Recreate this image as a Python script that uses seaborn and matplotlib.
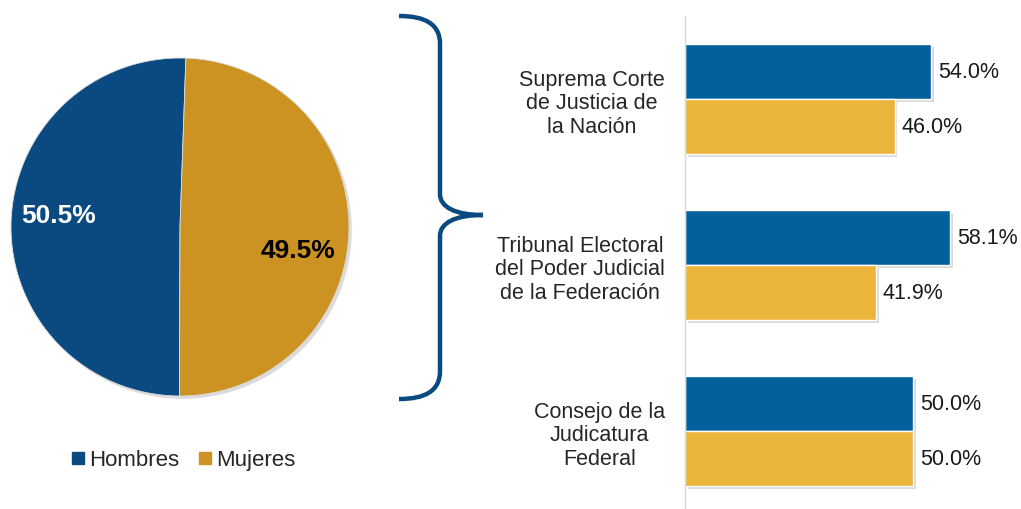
import matplotlib
matplotlib.use("Agg")
import matplotlib.pyplot as plt
import matplotlib.patheffects as pe
from matplotlib.path import Path
from matplotlib.patches import PathPatch
from matplotlib.lines import Line2D
import seaborn as sns
import pandas as pd

# datos
pie_labels = ["Hombres", "Mujeres"]
pie_values = [50.5, 49.5]
pie_colors = ["#0b4a80", "#cc9323"]

organos = ["Suprema Corte\nde Justicia de\nla Nación",
           "Tribunal Electoral\ndel Poder Judicial\nde la Federación",
           "Consejo de la\nJudicatura\nFederal"]
hombres = [54.0, 58.1, 50.0]
mujeres = [46.0, 41.9, 50.0]
bar_colors = ["#02609a", "#ebb43a"]

sns.set_theme(style="white")
plt.rcParams['font.family'] = ['Liberation Sans', 'DejaVu Sans']

W, H = 1021, 510
fig = plt.figure(figsize=(W / 100, H / 100), dpi=100)

# pastel
r = 169
cx, cy = 180, 228
ax_pie = fig.add_axes([(cx - r) / W, (H - cy - r) / H, 2 * r / W, 2 * r / H])
shadow = [pe.SimplePatchShadow(offset=(2, -2), shadow_rgbFace="#999999", alpha=0.35), pe.Normal()]
wedges, texts, autotexts = ax_pie.pie(pie_values, colors=pie_colors, startangle=88,
                                      autopct='%1.1f%%', pctdistance=0.72,
                                      wedgeprops=dict(linewidth=0.6, edgecolor="#dddddd"))
for w in wedges:
    w.set_path_effects(shadow)
for t, c in zip(autotexts, ["white", "black"]):
    t.set_color(c)
    t.set_fontsize(19)
    t.set_fontweight("bold")
x0, y0 = autotexts[0].get_position()
autotexts[0].set_position((x0, y0 + 0.06))
x1, y1 = autotexts[1].get_position()
autotexts[1].set_position((x1 - 0.02, y1 - 0.12))
ax_pie.set_xlim(-1, 1)
ax_pie.set_ylim(-1, 1)
ax_pie.set_aspect("equal")

handles = [Line2D([0], [0], marker="s", linestyle="", markersize=9,
                  markerfacecolor=c, markeredgecolor=c) for c in pie_colors]
fig.legend(handles, pie_labels, loc="center", bbox_to_anchor=(183 / W, 1 - 461 / H),
           ncol=2, frameon=False, fontsize=16, handletextpad=0.15, columnspacing=0.8,
           handlelength=0.7)

# llave
pts = [(399, 17), (425, 17), (440, 25), (440, 45),
       (440, 195),
       (440, 208), (455, 216), (483, 216),
       (455, 216), (440, 224), (440, 237),
       (440, 372),
       (440, 392), (425, 400), (399, 400)]
codes = [Path.MOVETO, Path.CURVE4, Path.CURVE4, Path.CURVE4,
         Path.LINETO,
         Path.CURVE4, Path.CURVE4, Path.CURVE4,
         Path.CURVE4, Path.CURVE4, Path.CURVE4,
         Path.LINETO,
         Path.CURVE4, Path.CURVE4, Path.CURVE4]
brace = Path([(x / W, 1 - y / H) for x, y in pts], codes)
fig.patches.append(PathPatch(brace, transform=fig.transFigure, facecolor="none",
                             edgecolor="#0b4a80", linewidth=3.2, capstyle="butt"))

# barras
df = pd.DataFrame({
    "organo": organos * 2,
    "sexo": ["Hombres"] * 3 + ["Mujeres"] * 3,
    "valor": hombres + mujeres,
})
slot = 166
ax_bar = fig.add_axes([685 / W, (H - 17 - 3 * slot) / H, 330 / W, 3 * slot / H])
sns.barplot(data=df, y="organo", x="valor", hue="sexo", palette=bar_colors,
            width=0.66, orient="h", ax=ax_bar, legend=False, saturation=1)
bar_shadow = [pe.SimplePatchShadow(offset=(2, -2), shadow_rgbFace="#888888", alpha=0.3), pe.Normal()]
for p in ax_bar.patches:
    p.set_path_effects(bar_shadow)
for cont in ax_bar.containers:
    ax_bar.bar_label(cont, fmt="%.1f%%", padding=5, fontsize=15.5, color="#1a1a1a")
ax_bar.set_xlim(0, 72.4)
ax_bar.set_ylim(2.5, -0.5)
ax_bar.set_xlabel("")
ax_bar.set_ylabel("")
ax_bar.set_xticks([])
ax_bar.tick_params(axis="y", length=0, pad=14.4)
for lab in ax_bar.get_yticklabels():
    lab.set_fontsize(15.5)
    lab.set_multialignment("center")
    lab.set_linespacing(1.15)
for s in ["top", "right", "bottom"]:
    ax_bar.spines[s].set_visible(False)
ax_bar.spines["left"].set_color("#d9d9d9")
ax_bar.spines["left"].set_linewidth(1)

fig.savefig("out.png", dpi=100, facecolor="white")
